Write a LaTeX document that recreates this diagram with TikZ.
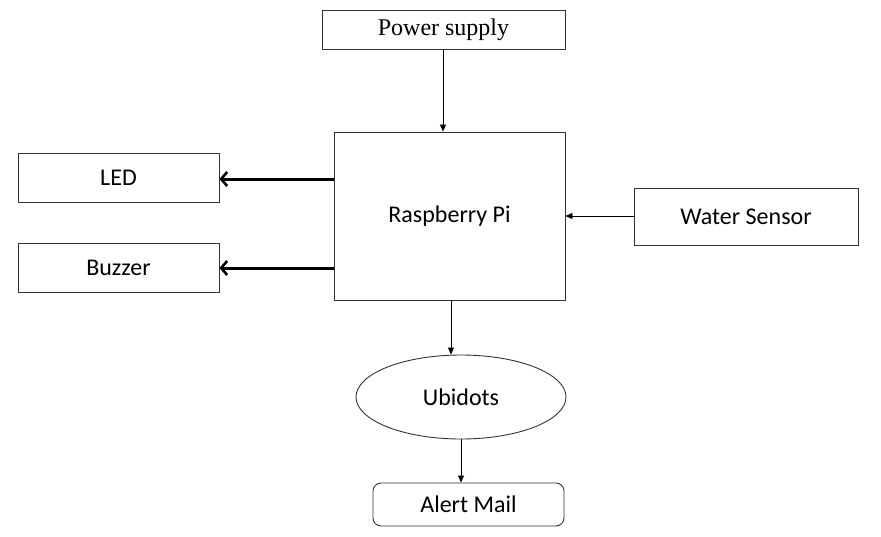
\documentclass[tikz,border=0pt]{standalone}
\usepackage{fontspec}
\setmainfont{Carlito}
\newfontfamily\timesf{Liberation Serif}
\usetikzlibrary{arrows.meta,shapes.geometric}
\begin{document}
\begin{tikzpicture}[x=1pt,y=-1pt,
  blk/.style={draw=black!80,line width=0.9pt,inner sep=0pt,font=\fontsize{24}{28}\selectfont},
  thin/.style={draw=black,line width=0.8pt,-{Triangle[length=7pt,width=6pt]}},
  thick/.style={draw=black,line width=3pt,-{Straight Barb[length=6pt,width=14pt,line width=2.6pt]}}]
\useasboundingbox (0,0) rectangle (881,536);
\node[blk,minimum width=243pt,minimum height=39pt,font=\timesf\fontsize{24}{28}\selectfont] (ps) at (443.5,29.5) {Power supply};
\node[blk,minimum width=231pt,minimum height=168pt] (rpi) at (449.5,216) {Raspberry Pi};
\node[blk,minimum width=201pt,minimum height=49pt] (led) at (118.5,177.5) {LED};
\node[blk,minimum width=201pt,minimum height=49pt] (bz) at (118.5,267.5) {Buzzer};
\node[blk,minimum width=224pt,minimum height=57pt] (ws) at (746,216.5) {Water Sensor};
\node[blk,ellipse,minimum width=210pt,minimum height=84pt] (ub) at (461,397) {Ubidots};
\node[blk,rounded corners=8pt,minimum width=191pt,minimum height=43pt] (am) at (468.5,504.5) {Alert Mail};
\draw[thin] (ps.south -| 443,0) -- (rpi.north -| 443,0);
\draw[thick] (rpi.west |- 0,179) -- (led.east |- 0,179);
\draw[thick] (rpi.west |- 0,268) -- (bz.east |- 0,268);
\draw[thin] (ws.west |- 0,216) -- (rpi.east |- 0,216);
\draw[thin] (rpi.south -| 451,0) -- (ub.north -| 451,0);
\draw[thin] (ub.south -| 461,0) -- (am.north -| 461,0);
\end{tikzpicture}
\end{document}
